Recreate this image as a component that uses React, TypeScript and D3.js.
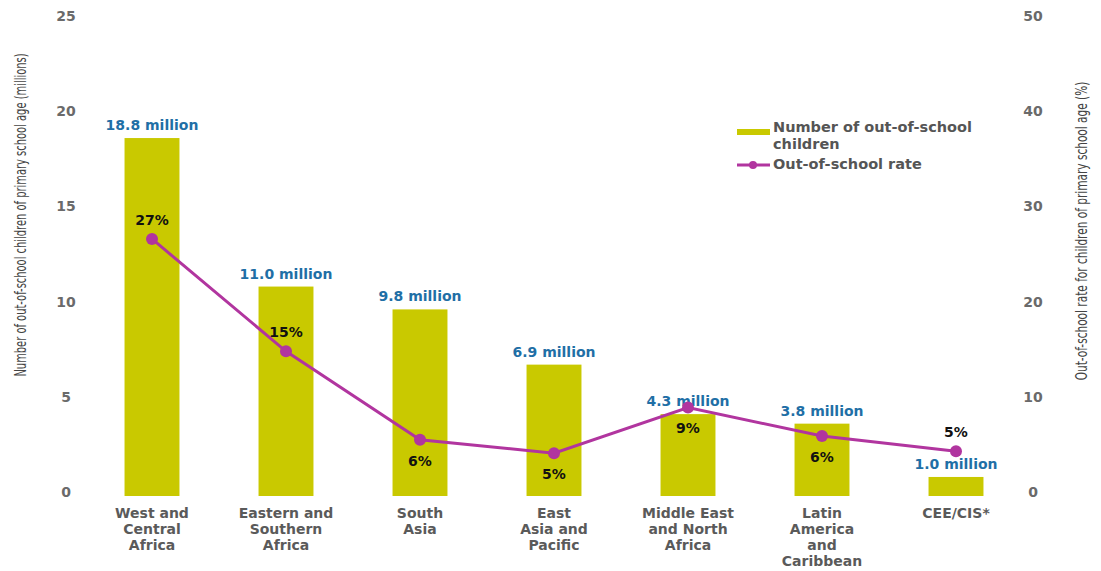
import React from "react";
import * as d3 from "d3";

const categories = [
  ["West and", "Central", "Africa"],
  ["Eastern and", "Southern", "Africa"],
  ["South", "Asia"],
  ["East", "Asia and", "Pacific"],
  ["Middle East", "and North", "Africa"],
  ["Latin", "America", "and", "Caribbean"],
  ["CEE/CIS*"],
];
const outOfSchool = [18.8, 11.0, 9.8, 6.9, 4.3, 3.8, 1.0];
const outOfSchoolLabels = ["18.8 million", "11.0 million", "9.8 million", "6.9 million", "4.3 million", "3.8 million", "1.0 million"];
const rate = [27, 15.2, 5.9, 4.5, 9.3, 6.3, 4.7];
const rateLabels = ["27%", "15%", "6%", "5%", "9%", "6%", "5%"];
const rateLabelSide = ["above", "above", "below", "below", "below", "below", "above"];
const leftTicks = [0, 5, 10, 15, 20, 25];
const rightTicks = [0, 10, 20, 30, 40, 50];

const W = 1101;
const H = 571;
const BAR = "#c9c900";
const LINE = "#b1359f";
const BLUE = "#1f6fa6";
const FONT = "DejaVu Sans, sans-serif";

export default function App() {
  const keys = categories.map((c) => c.join(" "));
  const x = d3.scaleBand<string>().domain(keys).range([85, 1023]).paddingInner(0.59).paddingOuter(0.295);
  const yL = d3.scaleLinear().domain([0, 25]).range([496, 20]);
  const yR = d3.scaleLinear().domain([0, 50]).range([496, 20]);
  const cx = (i: number) => (x(keys[i]) as number) + x.bandwidth() / 2;
  const line = d3
    .line<number>()
    .x((_, i) => cx(i))
    .y((d) => yR(d));

  return (
    <svg width={W} height={H} style={{ position: "absolute", left: 0, top: 0, background: "#fff" }} fontFamily={FONT}>
      {/* axis ticks */}
      {leftTicks.map((t) => (
        <text key={"l" + t} x={66} y={yL(t) - 3} textAnchor="middle" dominantBaseline="middle" fontSize={14} fontWeight="bold" fill="#6a6a6a">
          {t}
        </text>
      ))}
      {rightTicks.map((t) => (
        <text key={"r" + t} x={1033} y={yR(t) - 3} textAnchor="middle" dominantBaseline="middle" fontSize={14} fontWeight="bold" fill="#6a6a6a">
          {t}
        </text>
      ))}
      <text
        transform="translate(21,215) rotate(-90) scale(0.62,1)"
        textAnchor="middle"
        dominantBaseline="middle"
        fontSize={16}
        fill="#444"
      >
        Number of out-of-school children of primary school age (millions)
      </text>
      <text
        transform="translate(1082,231) rotate(-90) scale(0.66,1)"
        textAnchor="middle"
        dominantBaseline="middle"
        fontSize={16}
        fill="#444"
      >
        Out-of-school rate for children of primary school age (%)
      </text>

      {/* bars */}
      {outOfSchool.map((v, i) => (
        <rect key={"b" + i} x={x(keys[i])} y={yL(v)} width={x.bandwidth()} height={yL(0) - yL(v)} fill={BAR} />
      ))}
      {outOfSchool.map((v, i) => (
        <text key={"bl" + i} x={cx(i)} y={yL(v) - 8} textAnchor="middle" fontSize={14} fontWeight="bold" fill={BLUE}>
          {outOfSchoolLabels[i]}
        </text>
      ))}

      {/* line */}
      <path d={line(rate) || ""} fill="none" stroke={LINE} strokeWidth={3} />
      {rate.map((v, i) => (
        <circle key={"c" + i} cx={cx(i)} cy={yR(v)} r={6} fill={LINE} />
      ))}
      {rate.map((v, i) => (
        <text
          key={"rl" + i}
          x={cx(i)}
          y={rateLabelSide[i] === "above" ? yR(v) - 14 : yR(v) + 26}
          textAnchor="middle"
          fontSize={14}
          fontWeight="bold"
          fill="#111"
        >
          {rateLabels[i]}
        </text>
      ))}

      {/* x labels */}
      {categories.map((lines, i) => (
        <text key={"x" + i} x={cx(i)} y={518} textAnchor="middle" fontSize={14} fontWeight="bold" fill="#5a5a5a">
          {lines.map((l, j) => (
            <tspan key={j} x={cx(i)} dy={j === 0 ? 0 : 16}>
              {l}
            </tspan>
          ))}
        </text>
      ))}

      {/* legend */}
      <line x1={737} x2={770} y1={132} y2={132} stroke={BAR} strokeWidth={6} />
      <text x={773} y={128} fontSize={14.5} fontWeight="bold" fill="#555" dominantBaseline="middle">
        Number of out-of-school
      </text>
      <text x={773} y={145} fontSize={14.5} fontWeight="bold" fill="#555" dominantBaseline="middle">
        children
      </text>
      <line x1={737} x2={770} y1={165} y2={165} stroke={LINE} strokeWidth={3} />
      <circle cx={753} cy={165} r={4} fill={LINE} />
      <text x={773} y={165} fontSize={14.5} fontWeight="bold" fill="#555" dominantBaseline="middle">
        Out-of-school rate
      </text>
    </svg>
  );
}
